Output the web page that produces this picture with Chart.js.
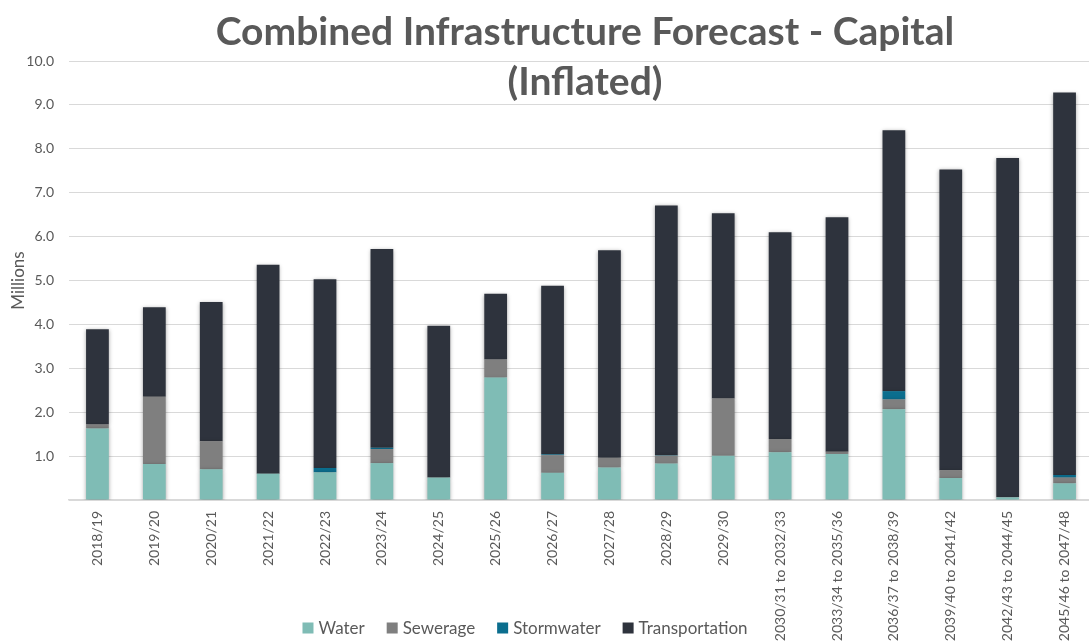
<!DOCTYPE html>
<html>
<head>
<meta charset="utf-8">
<script src="https://cdn.jsdelivr.net/npm/chart.js@4.4.1/dist/chart.umd.min.js"></script>
<style>
  html, body { margin: 0; padding: 0; background: #ffffff; overflow: hidden; }
  #wrap { position: relative; width: 1094px; height: 644px; }
</style>
</head>
<body>
<div id="wrap"><canvas id="c"></canvas></div>
<script>
const chartTitle = ["Combined Infrastructure Forecast - Capital", "(Inflated)"];
const yAxisTitle = "Millions";
const categories = ["2018/19","2019/20","2020/21","2021/22","2022/23","2023/24","2024/25","2025/26","2026/27","2027/28","2028/29","2029/30","2030/31 to 2032/33","2033/34 to 2035/36","2036/37 to 2038/39","2039/40 to 2041/42","2042/43 to 2044/45","2045/46 to 2047/48"];
const seriesNames = ["Water","Sewerage","Stormwater","Transportation"];
const water          = [1.63,0.82,0.70,0.60,0.63,0.84,0.51,2.79,0.62,0.74,0.83,1.01,1.09,1.05,2.07,0.50,0.06,0.38];
const sewerage       = [0.09,1.53,0.64,0.00,0.00,0.32,0.00,0.41,0.40,0.22,0.18,1.30,0.30,0.05,0.22,0.18,0.00,0.13];
const stormwater     = [0.00,0.00,0.00,0.00,0.10,0.03,0.00,0.00,0.02,0.00,0.01,0.00,0.00,0.00,0.19,0.00,0.00,0.06];
const transportation = [2.17,2.04,3.17,4.76,4.30,4.53,3.46,1.50,3.84,4.73,5.69,4.22,4.71,5.34,5.94,6.85,7.73,8.71];
const yTickLabels = ["","1.0","2.0","3.0","4.0","5.0","6.0","7.0","8.0","9.0","10.0"];

const colors = ["#7fbcb5","#7f7f7f","#0b6e8e","#2e333d"];
const seriesData = [water, sewerage, stormwater, transportation];
const FONT = "Lato, 'Open Sans', sans-serif";
const TEXT = "#595959";

const shadowPlugin = {
  id: 'shadow',
  beforeDatasetsDraw(chart) {
    const ctx = chart.ctx;
    ctx.save();
    ctx.shadowColor = 'rgba(0,0,0,0.35)';
    ctx.shadowBlur = 4;
    ctx.shadowOffsetX = 0;
    ctx.shadowOffsetY = 1;
  },
  afterDatasetsDraw(chart) { chart.ctx.restore(); }
};

const overlayPlugin = {
  id: 'overlay',
  afterDraw(chart) {
    const ctx = chart.ctx;
    ctx.save();
    // title
    ctx.fillStyle = TEXT;
    ctx.font = "bold 39px " + FONT;
    ctx.textAlign = 'center';
    ctx.textBaseline = 'middle';
    ctx.fillText(chartTitle[0], 585, 32);
    ctx.fillText(chartTitle[1], 585, 82);
    // legend
    ctx.font = "17px " + FONT;
    ctx.textAlign = 'left';
    const box = 11, gapBox = 5, gapItem = 22;
    let widths = seriesNames.map(n => ctx.measureText(n).width);
    let total = widths.reduce((a, w) => a + box + gapBox + w, 0) + gapItem * (seriesNames.length - 1);
    let x = 525 - total / 2;
    const y = 628;
    seriesNames.forEach((n, i) => {
      ctx.fillStyle = colors[i];
      ctx.fillRect(x, y - box / 2, box, box);
      ctx.fillStyle = TEXT;
      ctx.fillText(n, x + box + gapBox, y + 1);
      x += box + gapBox + widths[i] + gapItem;
    });
    ctx.restore();
  }
};

new Chart(document.getElementById('c'), {
  type: 'bar',
  data: {
    labels: categories,
    datasets: seriesNames.map((n, i) => ({
      label: n,
      data: seriesData[i],
      backgroundColor: colors[i],
      borderWidth: 0,
      barPercentage: 0.4,
      categoryPercentage: 1.0
    }))
  },
  options: {
    responsive: true,
    maintainAspectRatio: false,
    animation: false,
    layout: { padding: { top: 61, right: 1, bottom: 0, left: 0 } },
    plugins: {
      legend: { display: false },
      title: { display: false },
      tooltip: { enabled: false }
    },
    scales: {
      x: {
        stacked: true,
        grid: { display: false, drawTicks: false },
        border: { display: true, color: '#d9d9d9', width: 1.5 },
        ticks: {
          autoSkip: false,
          minRotation: 90,
          maxRotation: 90,
          padding: 11,
          color: TEXT,
          font: { family: FONT, size: 14 }
        },
        afterFit(scale) { scale.height = 144; }
      },
      y: {
        stacked: true,
        min: 0,
        max: 10,
        grid: { color: '#d9d9d9', lineWidth: 1, drawTicks: false },
        border: { display: false },
        ticks: {
          stepSize: 1,
          padding: 15,
          color: TEXT,
          font: { family: FONT, size: 14 },
          callback: (v, idx) => yTickLabels[idx]
        },
        title: {
          display: true,
          text: yAxisTitle,
          color: TEXT,
          font: { family: FONT, size: 17 },
          padding: { top: 8, bottom: 0 }
        },
        afterFit(scale) { scale.width = 69; }
      }
    }
  },
  plugins: [shadowPlugin, overlayPlugin]
});
</script>
</body>
</html>
